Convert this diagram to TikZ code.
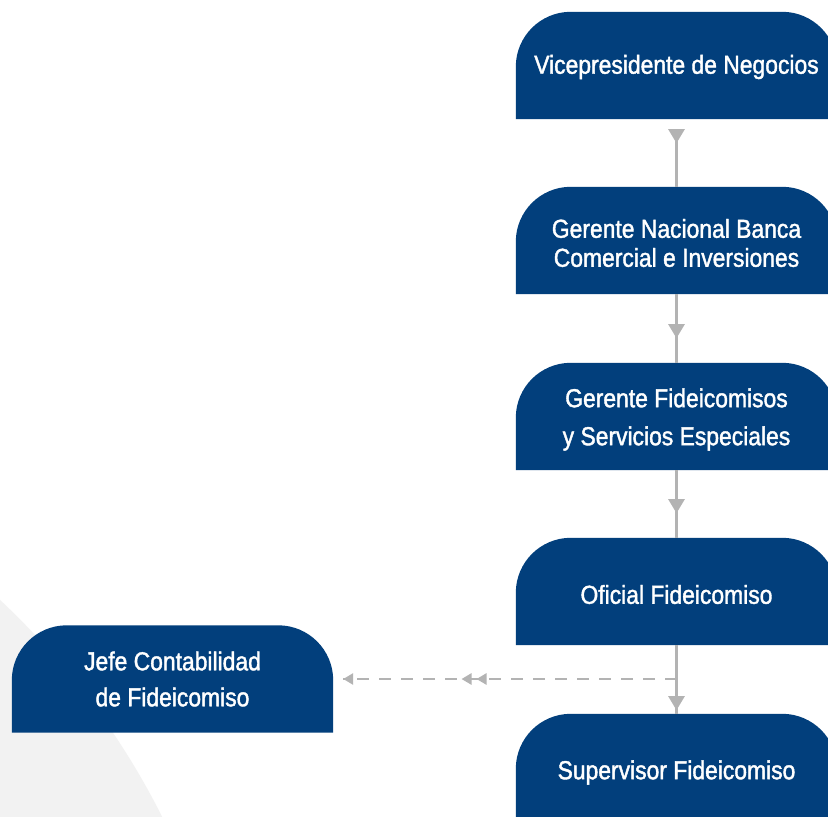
\documentclass[tikz,border=0pt]{standalone}
\usepackage{fontspec}
\setmainfont[FakeStretch=0.88,FakeBold=1.5]{Liberation Sans}
\usetikzlibrary{arrows.meta,decorations.markings,backgrounds,calc}
\definecolor{boxblue}{HTML}{023F7C}
\definecolor{conngray}{HTML}{B3B3B3}
\definecolor{bggray}{HTML}{F2F2F2}
\tikzset{
  orgbox/.style={minimum width=321pt, minimum height=107pt, inner sep=0pt},
  boxtext/.style={inner sep=0pt, align=center, text=white,
    font=\fontsize{26}{29}\selectfont},
  conn/.style={draw=conngray, line width=2.5pt},
  dashconn/.style={draw=conngray, line width=2.5pt, dash pattern=on 12pt off 10pt},
  midtip/.style={postaction={decorate}, decoration={markings,
    mark=at position #1 with {\arrow{Triangle[width=16pt,length=14pt]}}}},
}
\newcommand{\topround}[1]{%
  \fill[boxblue] (#1.south west) -- ([yshift=-55pt]#1.north west)
    arc[start angle=180,end angle=90,radius=55pt]
    -- ([xshift=-55pt]#1.north east)
    arc[start angle=90,end angle=0,radius=55pt]
    -- (#1.south east) -- cycle;}
\begin{document}
\begin{tikzpicture}[x=1pt,y=1pt]
\useasboundingbox (0,0) rectangle (828,-817);
\clip (0,0) rectangle (828,-817);

\node[orgbox, label={[boxtext, yshift=-1.5pt]center:{Vicepresidente de Negocios}}] (vp) at (676.5,-65.5) {};
\node[orgbox, label={[boxtext, yshift=-2.5pt]center:{Gerente Nacional Banca\\Comercial e Inversiones}}] (gn) at (676.5,-240.5) {};
\node[orgbox, label={[boxtext, yshift=-3pt, font=\fontsize{26}{38}\selectfont]center:{Gerente Fideicomisos\\y Servicios Especiales}}] (gf) at (676.5,-416.5) {};
\node[orgbox, label={[boxtext, yshift=-3pt]center:{Oficial Fideicomiso}}] (of) at (676.5,-591.5) {};
\node[orgbox, label={[boxtext, yshift=-5pt]center:{Supervisor Fideicomiso}}] (sv) at (676.5,-767.5) {};
\node[orgbox, label={[boxtext, font=\fontsize{26}{36}\selectfont]center:{Jefe Contabilidad\\de Fideicomiso}}] (jf) at (172.5,-679) {};

\begin{pgfonlayer}{background}
\fill[white] (0,0) rectangle (828,-817);
\begin{scope}
\clip (0,0) rectangle (828,-817);
\fill[bggray] (-528.5,-1163.5) circle[radius=772.6];
\end{scope}
\topround{vp}\topround{gn}\topround{gf}\topround{of}\topround{sv}\topround{jf}
\end{pgfonlayer}

\draw[conn, midtip=13pt] ([yshift=-11pt]vp.south) -- (gn.north);
\draw[conn, midtip=44pt] (gn.south) -- (gf.north);
\draw[conn, midtip=43pt] (gf.south) -- (of.north);
\draw[conn, midtip=65pt] (of.south) -- (sv.north);

\coordinate (split) at (of.south |- jf.east);
\draw[dashconn, postaction={decorate}, decoration={markings,
   mark=at position 200pt with {\arrow{Triangle[width=11pt,length=10pt]}},
   mark=at position 215pt with {\arrow{Triangle[width=11pt,length=10pt]}},
   mark=at position 1 with {\arrow{Triangle[width=11pt,length=10pt]}}}]
   (split) -- ([xshift=10pt]jf.east);
\end{tikzpicture}
\end{document}
